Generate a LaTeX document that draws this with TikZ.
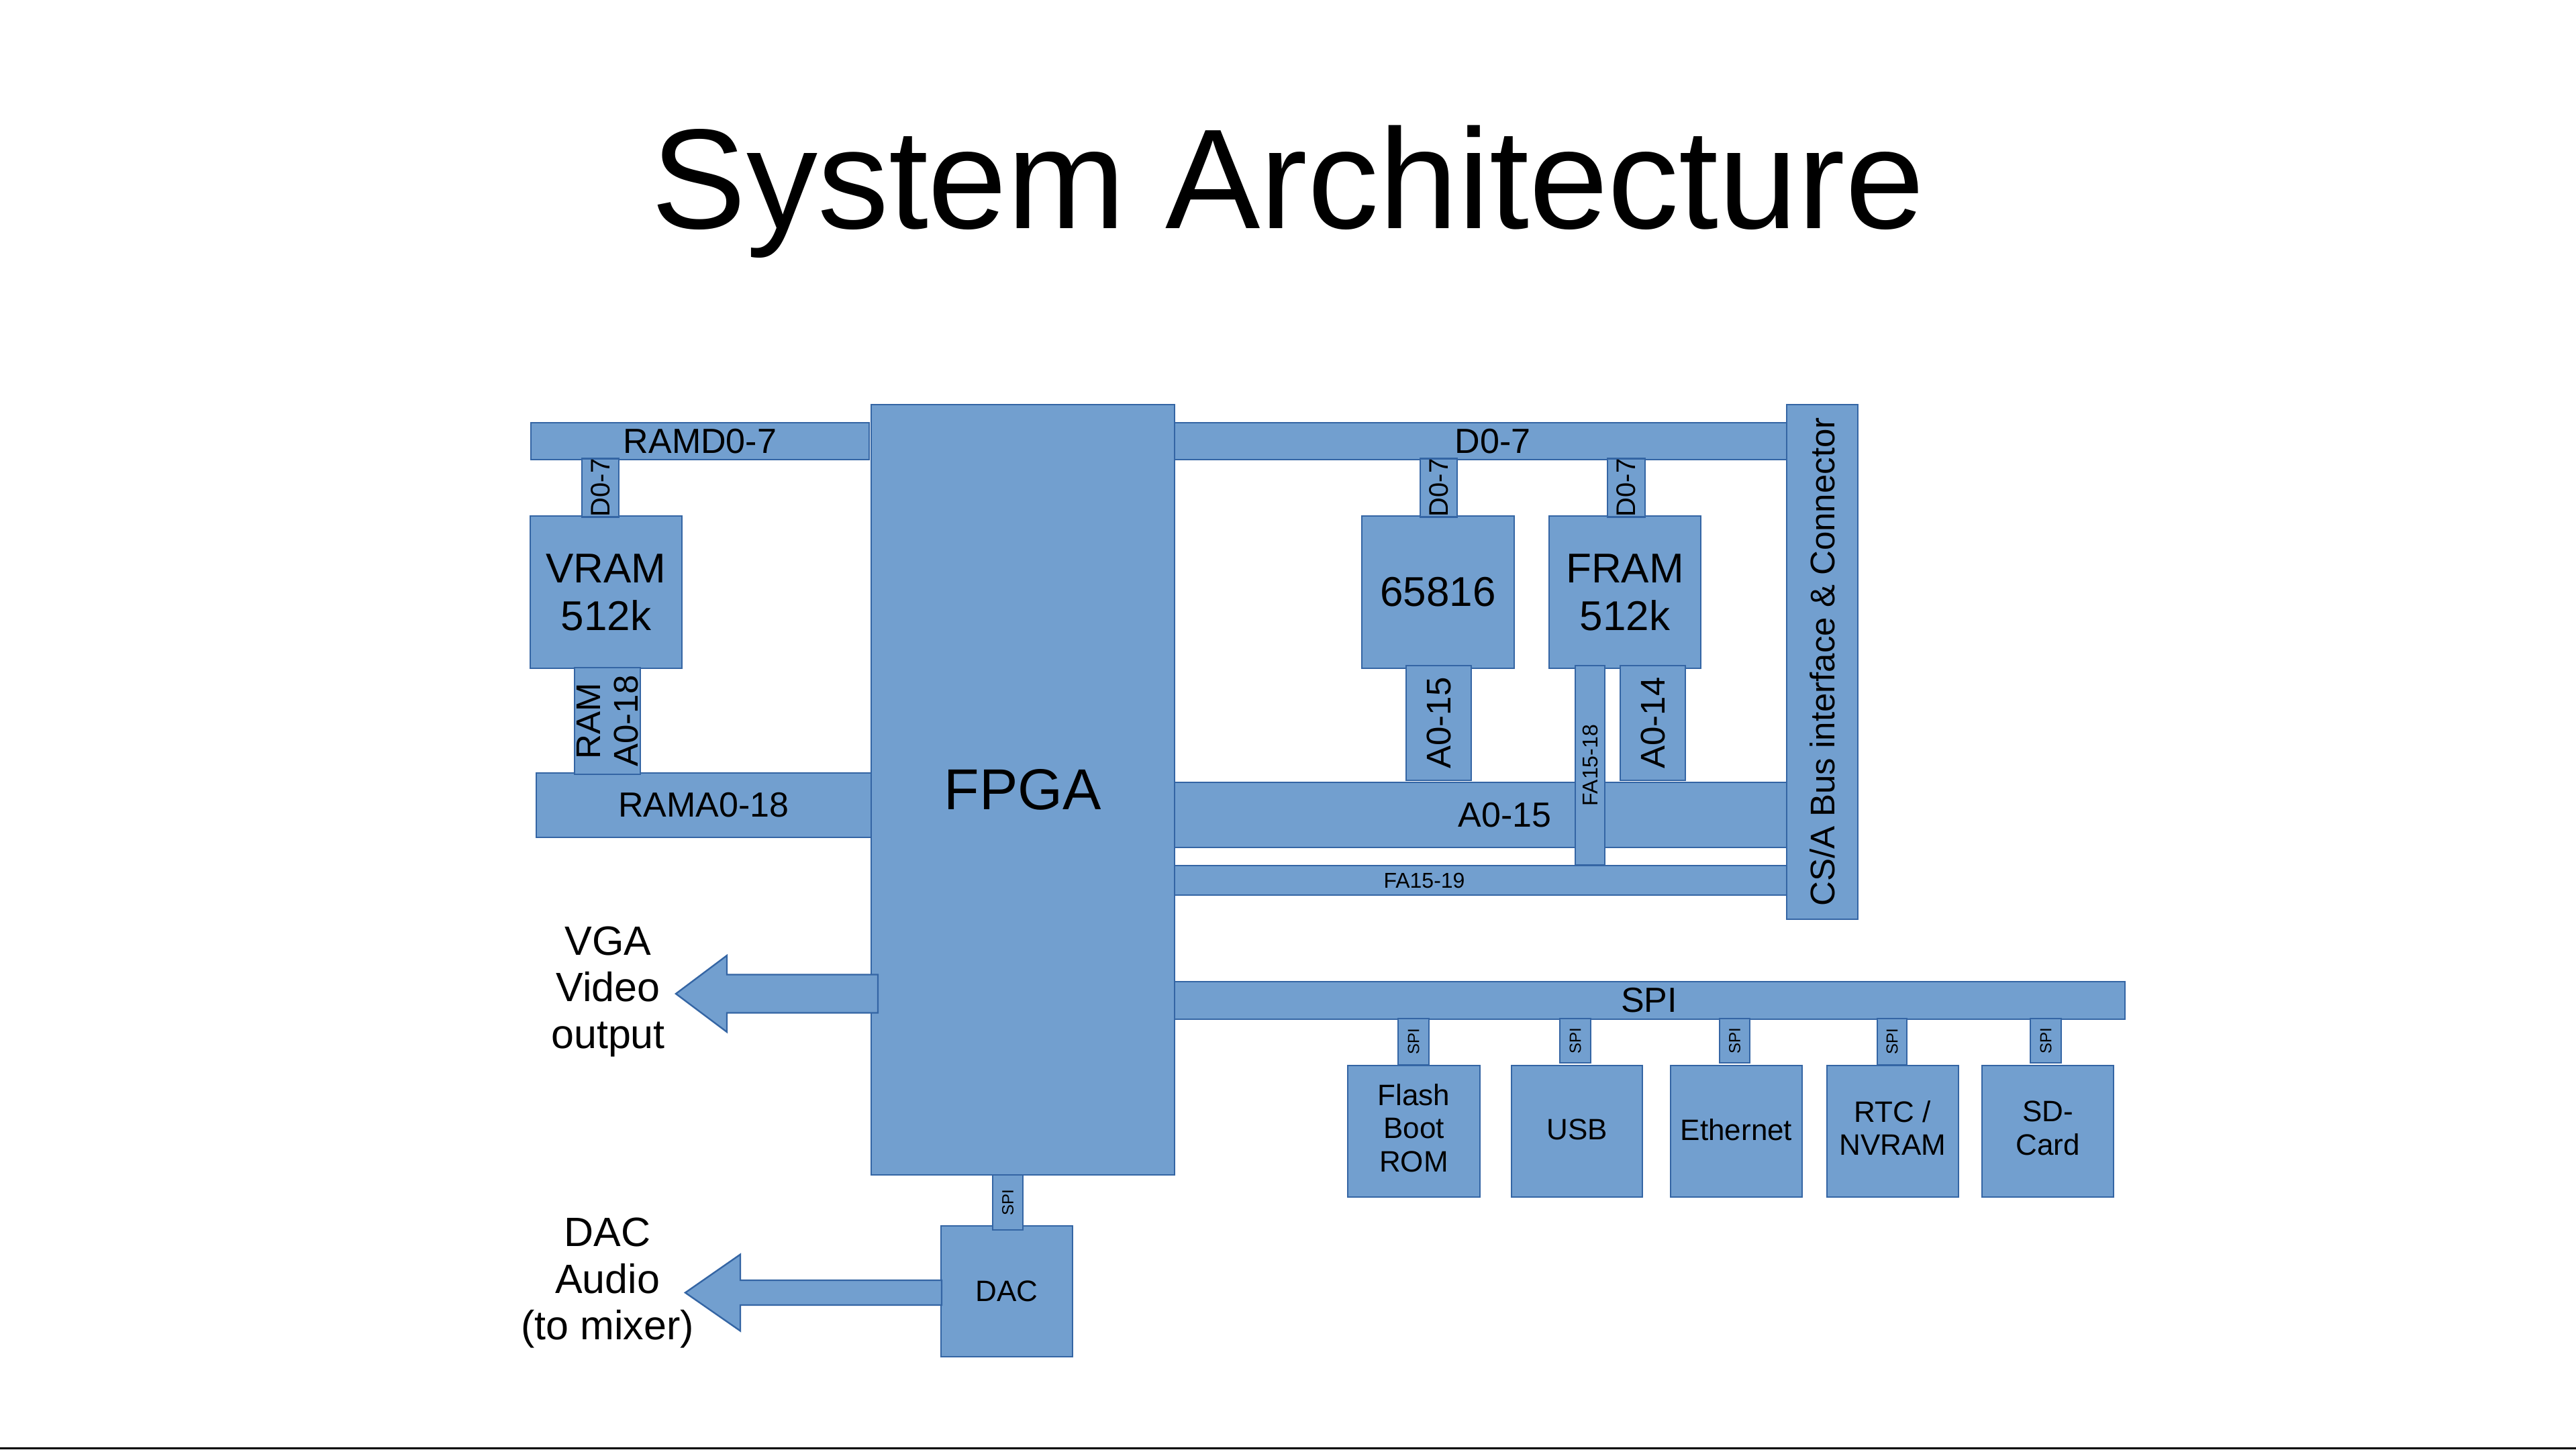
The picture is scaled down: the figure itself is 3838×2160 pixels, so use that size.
\documentclass[tikz,border=0pt]{standalone}
\usepackage{fontspec}
\setmainfont{Liberation Sans}
\usetikzlibrary{calc}
\definecolor{blkfill}{HTML}{729FCF}
\definecolor{blkline}{HTML}{3465A4}
\newcommand\fsz[2]{\fontsize{#1}{#2}\selectfont}

\begin{document}
\begin{tikzpicture}[x=1pt,y=-1pt,
  blk/.style={draw=blkline, fill=blkfill, line width=2.4pt, inner sep=0pt,
              outer sep=0pt, align=center, text=black},
  vblk/.style={blk, rotate=90},
  sz/.style 2 args={minimum width=#1, minimum height=#2},
  fatarrow/.style={draw=blkline, fill=blkfill, line width=2.4pt, line join=miter},
  lbl/.style={align=center, font=\fsz{61}{69.5}},
]
\useasboundingbox (0,0) rectangle (3838,2160);
\fill[white] (0,0) rectangle (3838,2160);

% title
\node[font=\fsz{212}{250}, anchor=base] (title) at (1919,340) {System Architecture};

% buses
\node[blk, sz={504}{55},   font=\fsz{52}{60}] (ramd)   at (1043,657.5)  {RAMD0-7};
\node[blk, sz={499}{96},   font=\fsz{52}{60}] (rama)   at (1048.5,1200) {RAMA0-18};
\node[blk, sz={1020}{55},  font=\fsz{52}{60}] (dbus)   at (2224,657.5)  {D0-7};
\node[blk, sz={1052}{97},  font=\fsz{52}{60}] (abus)   at (2242,1214.5) {A0-15};
\node[blk, sz={1080}{44},  font=\fsz{32}{37}] (fabus)  at (2122,1312)   {FA15-19};
\node[blk, sz={1418}{56},  font=\fsz{52}{60}] (spibus) at (2457,1491)   {SPI};

% main blocks
\node[blk, sz={452}{1148}, font=\fsz{86}{98}] (fpga) at (1524,1177) {FPGA};
\node[vblk, sz={767}{106}, font=\fsz{51}{59}] (csa) at (2715,986.5)
  {CS/A Bus interface \& Connector};
\node[blk, sz={226}{227}, font=\fsz{62}{71}] (vram) at (903,882.5)    {VRAM\\512k};
\node[blk, sz={227}{227}, font=\fsz{62}{71}] (cpu)  at (2142.5,882.5) {65816};
\node[blk, sz={226}{227}, font=\fsz{62}{71}] (fram) at (2421,882.5)   {FRAM\\512k};
\node[blk, sz={196}{195}, font=\fsz{44}{50}] (dac)  at (1500,1924.5)  {DAC};

\node[blk, sz={197}{196}, font=\fsz{44}{49.5}, text depth=10] (flash) at (2106.5,1686) {Flash\\Boot\\ROM};
\node[blk, sz={195}{196}, font=\fsz{44}{49.5}, text depth=5]  (usb)   at (2349.5,1686) {USB};
\node[blk, sz={196}{196}, font=\fsz{44}{49.5}, text depth=5]  (eth)   at (2587,1686)   {Ethernet};
\node[blk, sz={196}{196}, font=\fsz{44}{49.5}, text depth=10] (rtc)   at (2820,1686)   {RTC /\\NVRAM};
\node[blk, sz={196}{196}, font=\fsz{44}{49.5}, text depth=10] (sd)    at (3051,1686)   {SD-\\Card};

% bus stubs
\node[vblk, sz={84}{55},  font=\fsz{40}{46}] (vramd)  at (894.5,727)    {D0-7};
\node[vblk, sz={159}{98}, font=\fsz{51}{56}] (vrama)  at (905,1074.5)   {RAM\\A0-18};
\node[vblk, sz={84}{55},  font=\fsz{40}{46}] (cpud)   at (2143.5,727)   {D0-7};
\node[vblk, sz={171}{97}, font=\fsz{51}{58}] (cpua)   at (2143.5,1077.5){A0-15};
\node[vblk, sz={84}{56},  font=\fsz{40}{46}] (framd)  at (2423,727)     {D0-7};
\node[vblk, sz={297}{44}, font=\fsz{32}{37}] (framfa) at (2369,1140.5)  {FA15-18};
\node[vblk, sz={171}{97}, font=\fsz{51}{58}] (frama)  at (2462.5,1077.5){A0-14};

\node[vblk, sz={82}{45}, font=\fsz{24}{28}] (dacspi)   at (1501.5,1792) {SPI};
\node[vblk, sz={69}{46}, font=\fsz{24}{28}] (flashspi) at (2106,1552.5) {SPI};
\node[vblk, sz={66}{46}, font=\fsz{24}{28}] (usbspi)   at (2347,1551)   {SPI};
\node[vblk, sz={66}{45}, font=\fsz{24}{28}] (ethspi)   at (2584.5,1551) {SPI};
\node[vblk, sz={69}{44}, font=\fsz{24}{28}] (rtcspi)   at (2819,1552.5) {SPI};
\node[vblk, sz={66}{46}, font=\fsz{24}{28}] (sdspi)    at (3048,1551)   {SPI};

% video and audio outputs
\coordinate (vgatip) at (1007,1481);
\draw[fatarrow] (vgatip) -- ++(76,-57) -- ++(0,28.5)
  -- ($(fpga.west|-vgatip)+(10,-28.5)$) -- ++(0,57)
  -- ($(vgatip)+(76,28.5)$) -- ++(0,28.5) -- cycle;

\coordinate (dactip) at (1021,1926.5);
\draw[fatarrow] (dactip) -- ++(82,-57) -- ++(0,38.5)
  -- ($(dac.west|-dactip)+(1,-18.5)$) -- ++(0,37)
  -- ($(dactip)+(82,18.5)$) -- ++(0,38.5) -- cycle;

\node[lbl] (vgalbl) at (906,1478) {VGA\\Video\\output};
\node[lbl] (daclbl) at (905,1912) {DAC\\Audio\\(to mixer)};

% footer rule
\draw[line width=3pt] (0,2158.5) -- (3838,2158.5);
\end{tikzpicture}
\end{document}
